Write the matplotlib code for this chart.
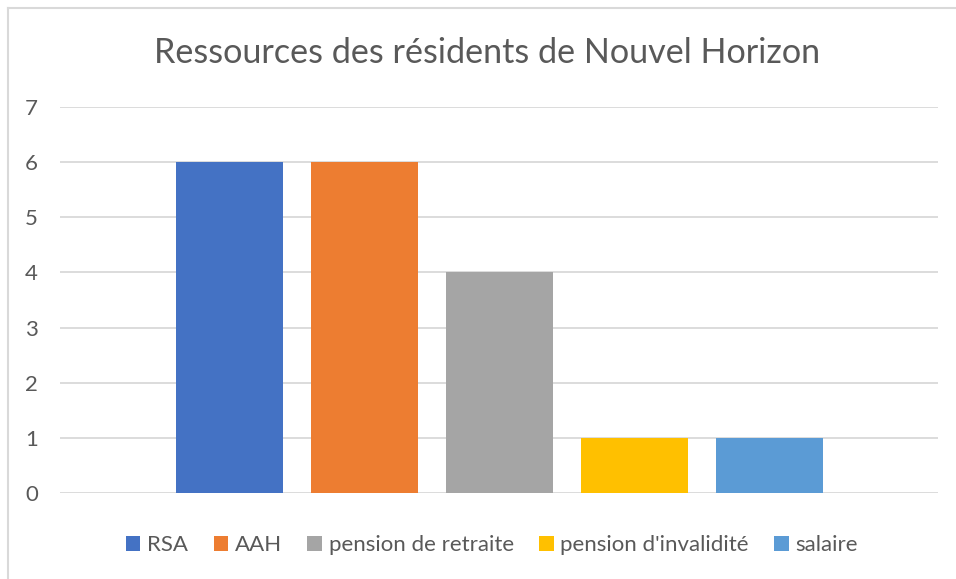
import matplotlib
matplotlib.use("Agg")
import matplotlib.pyplot as plt
from matplotlib.lines import Line2D
from matplotlib.patches import Patch

categories = ["RSA", "AAH", "pension de retraite", "pension d'invalidité", "salaire"]
values = [6, 6, 4, 1, 1]
colors = ["#4472C4", "#ED7D31", "#A5A5A5", "#FFC000", "#5B9BD5"]
yticks = [0, 1, 2, 3, 4, 5, 6, 7]
title = "Ressources des résidents de Nouvel Horizon"

plt.rcParams['font.family'] = ['Lato', 'DejaVu Sans']
txt = "#595959"

fig = plt.figure(figsize=(9.56, 5.79), dpi=100)
ax = fig.add_axes([60/956, 1-493/579, (938-60)/956, (493-107)/579])

x = list(range(len(categories)))
ax.bar(x, values, width=107/135, color=colors, zorder=3)
ax.set_xlim(-1.252, 4 + 1.248)
ax.set_ylim(0, 7)
ax.set_yticks(yticks)
ax.set_yticklabels([str(t) for t in yticks])
ax.set_xticks([])
ax.grid(axis='y', color="#D9D9D9", linewidth=1.3, zorder=0)
for s in ax.spines.values():
    s.set_visible(False)
ax.tick_params(axis='y', length=0, pad=16, labelsize=16, labelcolor=txt)

fig.text(487/956, 1-53/579, title, ha='center', va='center', fontsize=24.6, color=txt)

handles = [Patch(facecolor=c, edgecolor='none') for c in colors]
fig.legend(handles, categories, loc='center', bbox_to_anchor=(492/956, 1-545/579),
           ncol=5, frameon=False, fontsize=16, labelcolor=txt,
           handlelength=0.65, handleheight=0.65, handletextpad=0.3, columnspacing=1.15)

fig.add_artist(Line2D([8/956, 1], [1-8/579, 1-8/579], color="#D9D9D9", lw=1.5, transform=fig.transFigure))
fig.add_artist(Line2D([8/956, 8/956], [0, 1-8/579], color="#D9D9D9", lw=1.5, transform=fig.transFigure))

fig.savefig("out.png", dpi=100)
